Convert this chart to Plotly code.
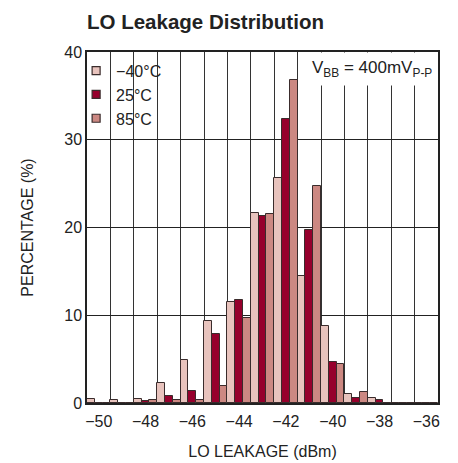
import plotly.graph_objects as go

# LO leakage bins (dBm) and percentage per temperature
bins = [-50, -49, -48, -47, -46, -45, -44, -43, -42, -41, -40, -39, -38, -37, -36]
pct_m40 = [0.42, 0.3, 0.45, 2.3, 4.9, 9.3, 11.5, 21.7, 25.6, 14.5, 8.8, 1.0, 0.55, 0, 0]
pct_25 = [0, 0, 0.25, 0.85, 1.4, 7.9, 11.7, 21.3, 32.4, 19.7, 4.7, 0.6, 0.3, 0, 0]
pct_85 = [0, 0, 0.3, 0.35, 0.35, 1.9, 9.7, 21.5, 36.8, 24.7, 4.4, 1.25, 0, 0, 0]
series_names = ["\u221240\u00b0C", "25\u00b0C", "85\u00b0C"]
x_ticks = [-50, -48, -46, -44, -42, -40, -38, -36]
y_ticks = [0, 10, 20, 30, 40]

colors = ["#E8C3BD", "#96002C", "#CC8882"]
edge = "#3a2c2c"
FONT = "Liberation Sans, Arial, sans-serif"

fig = go.Figure()
for name, vals, col in zip(series_names, [pct_m40, pct_25, pct_85], colors):
    fig.add_trace(go.Bar(x=bins, y=vals, name=name, showlegend=False,
                         marker=dict(color=col, line=dict(color=edge, width=1))))
# legend entries with small square symbols
for name, col in zip(series_names, colors):
    fig.add_trace(go.Scatter(x=[None], y=[None], mode="markers", name=name,
                             marker=dict(symbol="square", size=8, color=col,
                                         line=dict(color=edge, width=1.2))))

fig.update_layout(
    width=458, height=463,
    margin=dict(l=79, r=28, t=44, b=68, autoexpand=False),
    paper_bgcolor="white", plot_bgcolor="white",
    barmode="group", bargap=0, bargroupgap=0,
    font=dict(family=FONT, size=16, color="#222"),
    title=dict(text="<b>LO Leakage Distribution</b>", x=79 / 458, xanchor="left",
               xref="container", y=0.985, yanchor="top",
               font=dict(family=FONT, size=20.5, color="#222")),
    legend=dict(x=-0.031, y=0.995, xanchor="left", yanchor="top",
                bgcolor="rgba(0,0,0,0)", borderwidth=0, tracegroupgap=0,
                font=dict(family=FONT, size=16, color="#222"),
                itemwidth=30),
    showlegend=True,
)
# white backing behind legend so gridlines are hidden there
fig.add_shape(type="rect", xref="paper", yref="paper", x0=0.003, x1=0.22, y0=0.80, y1=0.992,
              fillcolor="white", line=dict(width=0), layer="between")
fig.update_xaxes(
    range=[-50.5, -35.5], tickvals=x_ticks, showgrid=False, zeroline=False,
    ticks="", showline=True, linecolor="#222", linewidth=1.5, mirror=True,
    minor=dict(tick0=-49.5, dtick=1, showgrid=True, gridcolor="#333", gridwidth=1),
    title=dict(text="LO LEAKAGE (dBm)", font=dict(size=16), standoff=17),
    tickfont=dict(size=16), ticklabelstandoff=3, automargin=False,
)
fig.update_yaxes(
    range=[0, 40], tickvals=y_ticks, showgrid=True, gridcolor="#222", gridwidth=1,
    zeroline=False, ticks="", showline=True, linecolor="#222", linewidth=1.5, mirror=True,
    title=dict(text="PERCENTAGE (%)", font=dict(size=16), standoff=27),
    tickfont=dict(size=16), automargin=False,
)
fig.add_annotation(
    text="V<sub>BB</sub> = 400mV<sub>P-P</sub>", xref="paper", yref="paper",
    x=1, y=1, xanchor="right", yanchor="top", showarrow=False,
    bgcolor="white", borderpad=5, font=dict(family=FONT, size=17, color="#222"),
)
fig.write_html("out.html")
